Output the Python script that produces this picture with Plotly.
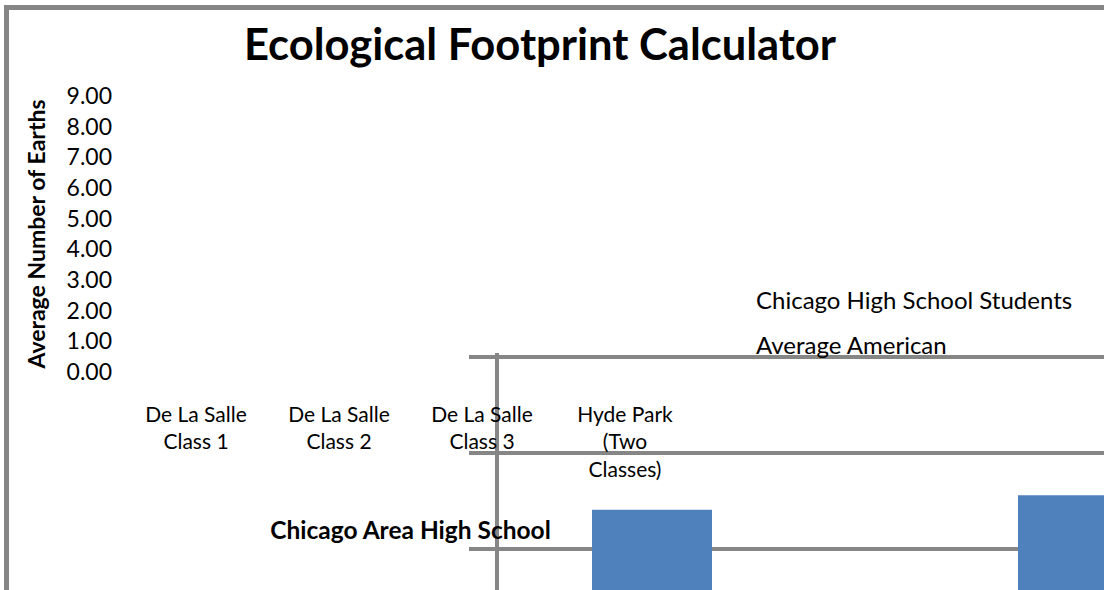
import plotly.graph_objects as go

# ---- data ----
categories = ["De La Salle<br>Class 1", "De La Salle<br>Class 2", "De La Salle<br>Class 3", "Hyde Park<br>(Two<br>Classes)"]
students_values = [7.41, 7.56, None, None]
tick_values = [0, 1, 2, 3, 4, 5, 6, 7, 8, 9]
tick_labels = ["%.2f" % v for v in tick_values]
series_names = ["Chicago High School Students", "Average American"]
chart_title = "Ecological Footprint Calculator"
x_title = "Chicago Area High School"
y_title = "Average Number of Earths"

W, H = 1104, 590
FONT = "Lato"
GRID = "#868686"
BLUE = "#4F81BD"

def px_x(p):
    return p / W

def px_y(p):
    return 1 - p / H

fig = go.Figure()

fig.add_trace(go.Bar(
    x=categories, y=students_values, name=series_names[0],
    marker=dict(color=BLUE, line=dict(width=0)),
    width=120 / 426, offset=-120 / 426,
    xaxis="x", yaxis="y", showlegend=False,
))

fig.add_trace(go.Scatter(
    x=categories, y=[None] * len(categories), xaxis="x2", yaxis="y2",
    mode="markers", showlegend=False, hoverinfo="skip",
))

top_px = 353          # top of plotting area in pixels (slightly above the 9 gridline)
grid9_px = 357        # pixel row of the 9.00 gridline
unit_px = 96
ytop = 9 + (grid9_px - top_px) / unit_px
ybot = 9 - (H - grid9_px) / unit_px

fig.update_layout(
    width=W, height=H,
    margin=dict(l=0, r=0, t=0, b=0, autoexpand=False),
    paper_bgcolor="white", plot_bgcolor="rgba(0,0,0,0)",
    font=dict(family=FONT, size=20, color="black"),
    showlegend=False,
    title=dict(text=chart_title, x=px_x(540), xanchor="center", y=px_y(45), yanchor="middle",
               automargin=False,
               font=dict(family=FONT, size=43.5, weight="bold", color="black")),
    xaxis=dict(
        domain=[px_x(499), 1], anchor="y", automargin=False,
        type="category", categoryorder="array", categoryarray=categories,
        range=[-0.5, -0.5 + (W - 499) / 426],
        showticklabels=False, showgrid=False, zeroline=False,
        showline=False, ticks="",
    ),
    yaxis=dict(
        domain=[0, px_y(top_px)], anchor="x", automargin=False,
        range=[ybot, ytop], tickvals=tick_values,
        showticklabels=False, showgrid=True, gridcolor=GRID, gridwidth=4,
        zeroline=False, showline=True, linecolor=GRID, linewidth=4,
        ticks="outside", ticklen=26, tickwidth=4, tickcolor=GRID,
    ),
    xaxis2=dict(
        domain=[px_x(124.5), px_x(696.5)], anchor="free", position=px_y(400), automargin=False,
        type="category", categoryorder="array", categoryarray=categories,
        range=[-0.5, 3.5], showgrid=False, zeroline=False, showline=False, ticks="",
        tickfont=dict(family=FONT, size=21, color="black"), tickangle=0,
        title=dict(text=x_title, standoff=42,
                   font=dict(family=FONT, size=24.5, weight="bold", color="black")),
    ),
    yaxis2=dict(
        domain=[px_y(372), px_y(96)], anchor="free", position=px_x(112), automargin=False,
        range=[0, 9], tickvals=tick_values, ticktext=tick_labels,
        showgrid=False, zeroline=False, showline=False, ticks="",
        tickfont=dict(family=FONT, size=23, color="black"),
        title=dict(text=y_title, standoff=13,
                   font=dict(family=FONT, size=23, weight="bold", color="black")),
    ),
    annotations=[
        dict(text=series_names[0], x=px_x(754), y=px_y(299), xref="paper", yref="paper",
             xanchor="left", yanchor="middle", showarrow=False,
             font=dict(family=FONT, size=24, color="black")),
        dict(text=series_names[1], x=px_x(754), y=px_y(344), xref="paper", yref="paper",
             xanchor="left", yanchor="middle", showarrow=False,
             font=dict(family=FONT, size=24, color="black")),
    ],
    shapes=[
        dict(type="line", xref="paper", yref="paper", x0=px_x(4), x1=1, y0=px_y(7.5), y1=px_y(7.5),
             line=dict(color=GRID, width=5), layer="above"),
        dict(type="line", xref="paper", yref="paper", x0=px_x(6.5), x1=px_x(6.5), y0=px_y(5), y1=0,
             line=dict(color=GRID, width=5), layer="above"),
    ],
)

fig.write_html(
    "out.html",
    config={"displayModeBar": False},
    post_script="document.body.style.margin='0';document.body.style.overflow='hidden';",
)
